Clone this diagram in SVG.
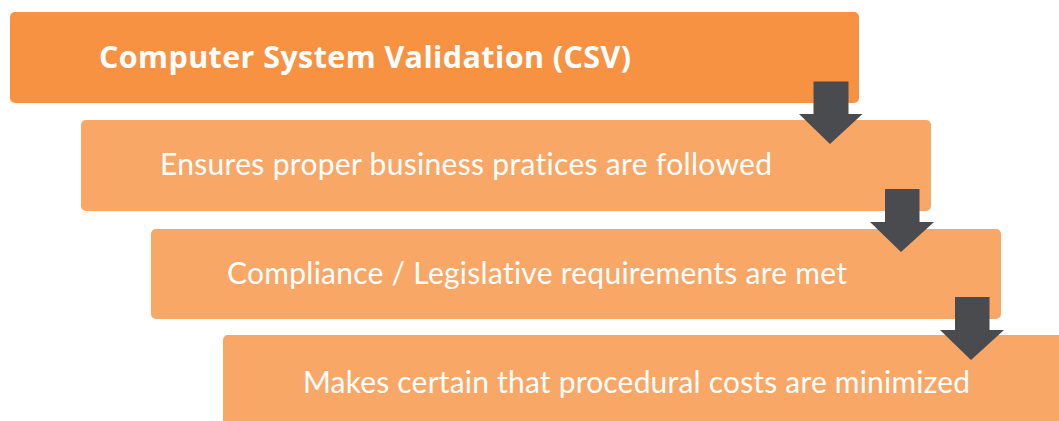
<svg xmlns="http://www.w3.org/2000/svg" width="1059" height="421" viewBox="0 0 1059 421">
<style>
.box{fill:#f8a766;}
.box1{fill:#f79243;}
.t{font-family:Lato,"Open Sans","Liberation Sans",sans-serif;font-size:30px;fill:#ffffff;font-variant-ligatures:none;font-feature-settings:"liga" 0;}
.tb{font-family:"Open Sans",Lato,"Liberation Sans",sans-serif;font-weight:bold;font-size:30.5px;}
.arr{fill:#4a4b4f;}
</style>
<rect width="1059" height="421" fill="#ffffff"/>
<g id="node1">
<rect class="box1" x="10" y="12" width="849" height="91" rx="5"/>
<text class="t tb" x="99" y="68" textLength="532" lengthAdjust="spacing">Computer System Validation (CSV)</text>
</g>
<g id="node2">
<rect class="box" x="81" y="120" width="850" height="91" rx="5"/>
<text class="t" x="160" y="175" textLength="612" lengthAdjust="spacing">Ensures proper business pratices are followed</text>
</g>
<g id="node3">
<rect class="box" x="151" y="229" width="850" height="90" rx="5"/>
<text class="t" x="227" y="284" textLength="620" lengthAdjust="spacing">Compliance / Legislative requirements are met</text>
</g>
<g id="node4">
<rect class="box" x="223" y="335" width="846" height="100" rx="5"/>
<text class="t" x="303" y="393" textLength="667" lengthAdjust="spacing">Makes certain that procedural costs are minimized</text>
</g>
<g id="connectors">
<polygon class="arr" points="813.5,81.5 848.5,81.5 848.5,114 862.5,114 830,144 799,114 813.5,114"/>
<polygon class="arr" points="885,189 919.5,189 919.5,222 934,222 901,252 870,222 885,222"/>
<polygon class="arr" points="955,297 989.5,297 989.5,330 1004,330 971,360 940,330 955,330"/>
</g>
</svg>
